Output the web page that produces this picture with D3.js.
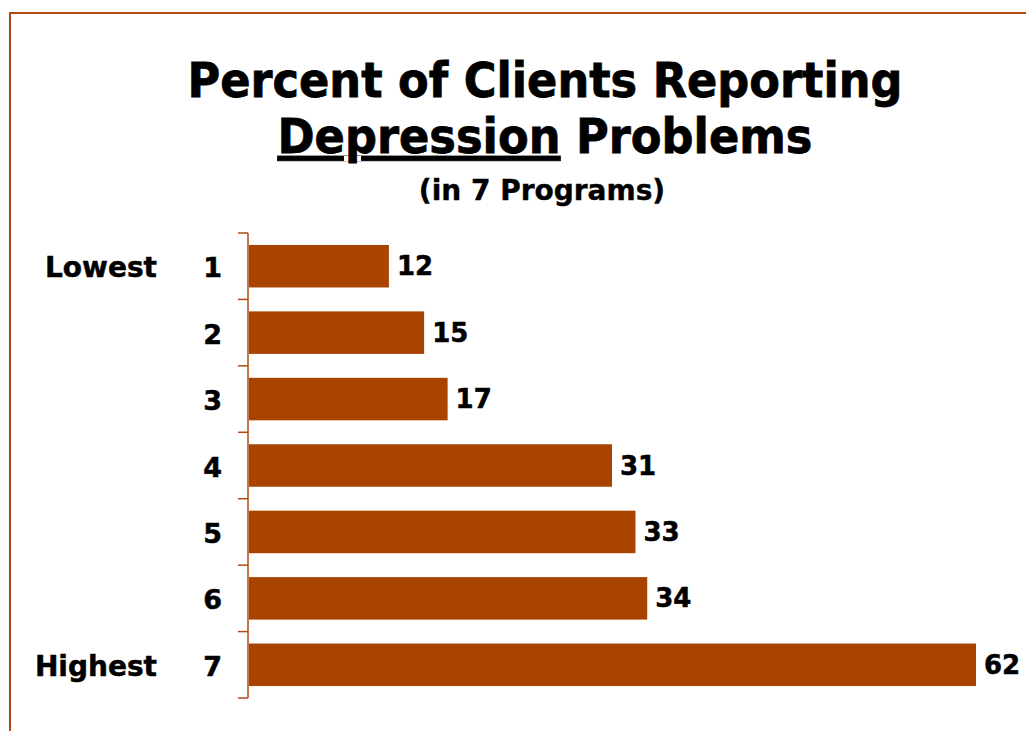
<!DOCTYPE html>
<html>
<head>
<meta charset="utf-8">
<script src="https://cdn.jsdelivr.net/npm/d3@7"></script>
<style>
	body { margin: 0; background: #fff; }
	text { font-family: Tahoma, 'DejaVu Sans', sans-serif; font-weight: bold; fill: #000; }
</style>
</head>
<body>
<svg id="barchart"></svg>
<script>
// chart data
let programs = ['1', '2', '3', '4', '5', '6', '7'];
let rankLabels = ['Lowest', '', '', '', '', '', 'Highest'];
let percents = [12, 15, 17, 31, 33, 34, 62];

function makeChart() {
	let w = 1026;
	let h = 731;
	let barColor = '#a94400';
	let lineColor = '#b04a10';

	let chart = d3.select('#barchart')
		.attr('width', w)
		.attr('height', h);

	// frame lines, top and left
	chart.append('line')
		.attr('x1', 9).attr('y1', 13).attr('x2', w).attr('y2', 13)
		.style('stroke', lineColor).style('stroke-width', 2);
	chart.append('line')
		.attr('x1', 10).attr('y1', 12).attr('x2', 10).attr('y2', h)
		.style('stroke', lineColor).style('stroke-width', 2);

	// titles (squeezed a little, the original face is narrower)
	chart.append('text')
		.attr('x', 545).attr('y', 97)
		.attr('text-anchor', 'middle')
		.attr('textLength', 715)
		.attr('lengthAdjust', 'spacingAndGlyphs')
		.style('font-size', '48px')
		.style('stroke', '#000').style('stroke-width', 0.8)
		.text('Percent of Clients Reporting');

	let t2 = chart.append('text')
		.attr('x', 545).attr('y', 153)
		.attr('text-anchor', 'middle')
		.attr('textLength', 535)
		.attr('lengthAdjust', 'spacingAndGlyphs')
		.style('font-size', '48px')
		.style('stroke', '#000').style('stroke-width', 0.8);
	t2.append('tspan').style('text-decoration', 'underline').text('Depression');
	t2.append('tspan').text(' Problems');

	chart.append('text')
		.attr('x', 542).attr('y', 200)
		.attr('text-anchor', 'middle')
		.style('font-size', '28px')
		.style('stroke', '#000').style('stroke-width', 0.4)
		.text('(in 7 Programs)');

	let x = d3.scaleLinear()
		.domain([0, 62])
		.range([248, 976]);

	let y = d3.scaleBand()
		.domain(programs)
		.range([233, 698])
		.paddingInner(0.36)
		.paddingOuter(0.18);

	// axis line with ticks between the bars
	chart.append('line')
		.attr('x1', x(0)).attr('y1', y.range()[0])
		.attr('x2', x(0)).attr('y2', y.range()[1])
		.style('stroke', lineColor).style('stroke-width', 1.5);

	chart.selectAll('.tick')
		.data(d3.range(programs.length + 1))
		.enter()
		.append('line')
		.classed('tick', true)
		.attr('x1', x(0) - 10)
		.attr('x2', x(0))
		.attr('y1', d => y.range()[0] + d * y.step())
		.attr('y2', d => y.range()[0] + d * y.step())
		.style('stroke', lineColor).style('stroke-width', 1.5);

	chart.selectAll('.bar')
		.data(percents)
		.enter()
		.append('rect')
		.classed('bar', true)
		.attr('x', x(0) + 1)
		.attr('y', (d, i) => y(programs[i]))
		.attr('width', d => x(d) - x(0) - 1)
		.attr('height', y.bandwidth())
		.style('fill', barColor);

	chart.selectAll('.value')
		.data(percents)
		.enter()
		.append('text')
		.classed('value', true)
		.attr('x', d => x(d) + 8)
		.attr('y', (d, i) => y(programs[i]) + y.bandwidth() / 2 + 9)
		.style('font-size', '26px')
		.style('stroke', '#000').style('stroke-width', 0.5)
		.text(d => d);

	chart.selectAll('.prog')
		.data(programs)
		.enter()
		.append('text')
		.classed('prog', true)
		.attr('x', 222)
		.attr('y', d => y(d) + y.bandwidth() / 2 + 11)
		.attr('text-anchor', 'end')
		.style('font-size', '27px')
		.style('stroke', '#000').style('stroke-width', 0.5)
		.text(d => d);

	chart.selectAll('.rank')
		.data(rankLabels)
		.enter()
		.append('text')
		.classed('rank', true)
		.attr('x', 157)
		.attr('y', (d, i) => y(programs[i]) + y.bandwidth() / 2 + 11)
		.attr('text-anchor', 'end')
		.style('font-size', '28px')
		.style('stroke', '#000').style('stroke-width', 0.5)
		.text(d => d);
}

window.onload = function () {
	makeChart();
}
</script>
</body>
</html>
